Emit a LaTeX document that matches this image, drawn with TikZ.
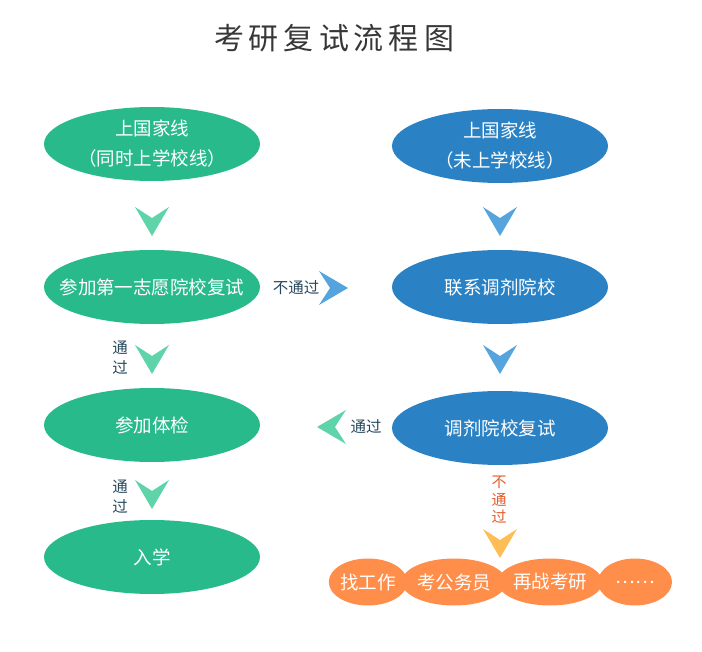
\documentclass[tikz,border=0pt]{standalone}
\usepackage{fontspec}
\setmainfont{Noto Sans CJK SC}
\usetikzlibrary{shapes.geometric}
\definecolor{gEll}{RGB}{40,186,138}
\definecolor{gArr}{RGB}{95,212,170}
\definecolor{bEll}{RGB}{42,130,196}
\definecolor{bArr}{RGB}{86,164,222}
\definecolor{oEll}{RGB}{255,142,74}
\definecolor{oArr}{RGB}{255,190,85}
\definecolor{lblDark}{RGB}{38,72,92}
\definecolor{lblOrange}{RGB}{228,92,40}
\definecolor{titleC}{RGB}{55,55,55}
\tikzset{
  elltext/.style={text=white, font=\fontsize{18.5}{30}\selectfont, align=center, inner sep=0pt},
  bigell/.style={ellipse, inner sep=0pt, minimum width=216pt, minimum height=74pt},
  greenell/.style={bigell, fill=gEll},
  blueell/.style={bigell, fill=bEll},
  orell/.style={ellipse, inner sep=0pt, minimum height=47pt, fill=oEll, text=white, font=\fontsize{18.5}{22}\selectfont},
  lbl/.style={text=lblDark, font=\fontsize{15.5}{20}\selectfont, align=center, inner sep=1pt},
  lblo/.style={text=lblOrange, font=\fontsize{15}{17.5}\selectfont, align=center, inner sep=1pt},
  pics/chev/.style={code={\fill[#1] (-17,-14) -- (0,-3) -- (17,-14) -- (0,15) -- cycle;}}
}
\begin{document}
\begin{tikzpicture}[x=1pt,y=-1pt]
\useasboundingbox (0,0) rectangle (702,652);
\node[text=titleC, font=\fontsize{30}{34}\selectfont] (title) at (334,38) {考\,研\,复\,试\,流\,程\,图};
% left column
\node[greenell] (L1) at (152,144) {};
\node[elltext] at (L1) {上国家线\\（同时上学校线）};
\node[greenell] (L2) at (152,287) {};
\node[elltext] at (L2) {参加第一志愿院校复试};
\node[greenell] (L3) at (152,425) {};
\node[elltext] at (L3) {参加体检};
\node[greenell] (L4) at (152,557) {};
\node[elltext] at (L4) {入学};
% right column
\node[blueell] (R1) at (500,146) {};
\node[elltext] at (R1) {上国家线\\（未上学校线）};
\node[blueell] (R2) at (500,287) {};
\node[elltext] at (R2) {联系调剂院校};
\node[blueell] (R3) at (500,428) {};
\node[elltext] at (R3) {调剂院校复试};
% orange
\node[orell, minimum width=74pt] (O1) at (368,582) {找工作};
\node[orell, minimum width=96pt] (O2) at (454,582) {考公务员};
\node[orell, minimum width=96pt] (O3) at (550,582) {再战考研};
\node[orell, minimum width=74pt] (O4) at (635,582) {……};
% chevrons
\pic at (152,221) {chev=gArr};
\pic at (152,359) {chev=gArr};
\pic at (152,494) {chev=gArr};
\pic at (500,221) {chev=bArr};
\pic at (500,359) {chev=bArr};
\pic[rotate=90] at (333,288) {chev=bArr};
\pic[rotate=-90] at (332,427) {chev=gArr};
\pic at (500,543) {chev=oArr};
% labels
\node[lbl] (t1) at (296,288) {不通过};
\node[lbl] (t2) at (120,358) {通\\过};
\node[lbl] (t3) at (120,497) {通\\过};
\node[lbl] (t4) at (366,427) {通过};
\node[lblo] (t5) at (499,500) {不\\通\\过};
\end{tikzpicture}
\end{document}
